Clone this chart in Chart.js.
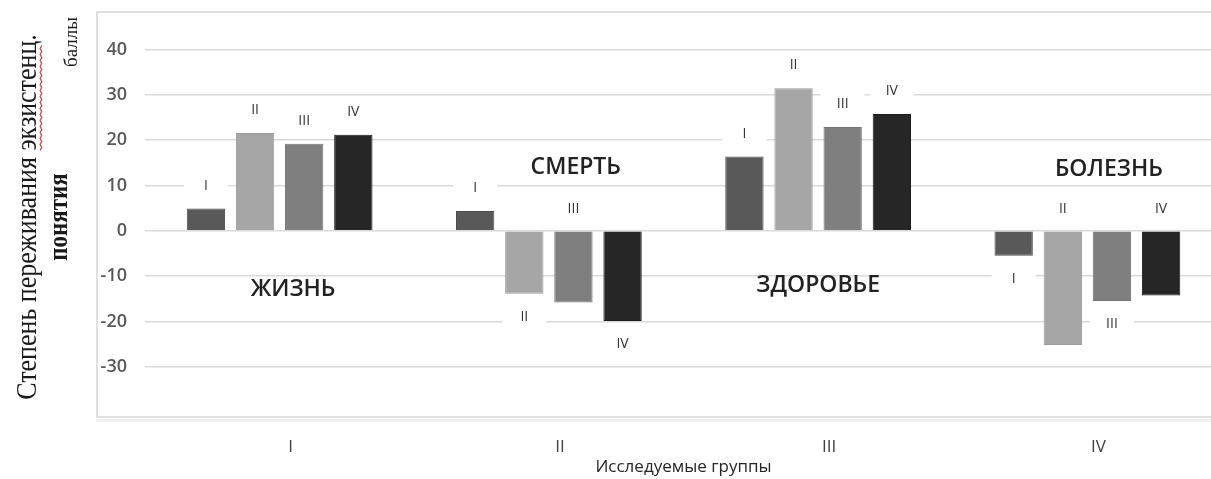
<!DOCTYPE html>
<html>
<head>
<meta charset="utf-8">
<script src="https://cdn.jsdelivr.net/npm/chart.js@4"></script>
<style>
	html, body { margin: 0; padding: 0; background: #fff; overflow: hidden; }
	#wrap { width: 1240px; height: 479px; }
</style>
</head>
<body>
<div id="wrap"><canvas id="groupChart"></canvas></div>
<script>
// Исследуемые группы (ось X)
const groups = ['I', 'II', 'III', 'IV'];
// Серии внутри каждой группы
const seriesNames = ['I', 'II', 'III', 'IV'];
const seriesI = [4.9, 4.4, 16.4, -5.5];
const seriesII = [21.6, -13.9, 31.5, -25.2];
const seriesIII = [19.2, -15.8, 22.9, -15.5];
const seriesIV = [21.2, -19.9, 25.8, -14.3];
// Подписи оси Y
const yTickValues = [-30, -20, -10, 0, 10, 20, 30, 40];
// Экзистенциальные понятия для каждой группы
const concepts = ['ЖИЗНЬ', 'СМЕРТЬ', 'ЗДОРОВЬЕ', 'БОЛЕЗНЬ'];

// где стоит подпись столбика: 'end' - у конца, 'base' - над нулём
const labelPlace = [
	['end', 'end', 'end', 'end'],
	['end', 'end', 'end', 'base'],
	['end', 'base', 'end', 'end'],
	['end', 'end', 'end', 'base']
];
// положение надписей-понятий (сдвиг по категории, значение по Y)
const conceptPos = [[0.05, -13], [0.1, 14], [0, -12], [0.08, 13.5]];

const fills = ['#595959', '#a6a6a6', '#7f7f7f', '#262626'];
const borders = ['#4d4d4d', '#9c9c9c', '#767676', '#1c1c1c'];

const decorPlugin = {
	id: 'decor',
	beforeDraw(chart) {
		const ctx = chart.ctx;
		ctx.save();
		// рамка диаграммы
		ctx.strokeStyle = '#f0f0f0';
		ctx.lineWidth = 3;
		ctx.beginPath();
		ctx.moveTo(96, 420.5);
		ctx.lineTo(1240, 420.5);
		ctx.stroke();
		ctx.strokeStyle = '#d6d6d6';
		ctx.lineWidth = 1.5;
		ctx.strokeRect(97, 12, 1134, 405);
		ctx.restore();
	},
	afterDatasetsDraw(chart) {
		const ctx = chart.ctx;
		const yScale = chart.scales.y;
		const zero = yScale.getPixelForValue(0);
		ctx.save();
		ctx.font = '14px "Open Sans"';
		ctx.textAlign = 'center';
		ctx.textBaseline = 'middle';
		chart.data.datasets.forEach((ds, di) => {
			const meta = chart.getDatasetMeta(di);
			meta.data.forEach((bar, i) => {
				const v = ds.data[i];
				let y;
				if (labelPlace[di][i] === 'base') {
					y = zero - 22;
				} else {
					y = v >= 0 ? bar.y - 23 : bar.y + 23;
				}
				ctx.fillStyle = '#ffffff';
				ctx.fillRect(bar.x - 22, y - 14, 44, 28);
				ctx.fillStyle = '#333333';
				ctx.fillText(seriesNames[di], bar.x, y);
			});
		});
		ctx.restore();
	},
	afterDraw(chart) {
		const ctx = chart.ctx;
		const xScale = chart.scales.x;
		const yScale = chart.scales.y;
		ctx.save();
		// понятия
		ctx.font = '600 23px "Open Sans"';
		ctx.fillStyle = '#222222';
		ctx.textAlign = 'center';
		ctx.textBaseline = 'middle';
		concepts.forEach((c, i) => {
			const x = xScale.getPixelForValue(i + conceptPos[i][0]);
			const y = yScale.getPixelForValue(conceptPos[i][1]);
			ctx.fillText(c, x, y);
		});

		// подпись оси Y
		ctx.fillStyle = '#1a1a1a';
		ctx.save();
		ctx.translate(28, 217);
		ctx.rotate(-Math.PI / 2);
		ctx.scale(1, 1.15);
		ctx.font = '26px "Liberation Serif"';
		const t1 = 'Степень переживания ';
		const t2 = 'экзистенц.';
		const w1 = ctx.measureText(t1).width;
		const w2 = ctx.measureText(t2).width;
		const start = -(w1 + w2) / 2;
		ctx.textAlign = 'left';
		ctx.fillText(t1, start, 0);
		ctx.fillText(t2, start + w1, 0);
		// красное подчёркивание
		ctx.strokeStyle = '#e03030';
		ctx.lineWidth = 1;
		ctx.beginPath();
		for (let k = 0; k <= w2 - 10; k += 3) {
			const yy = 10.5 + ((k / 3) % 2 === 0 ? 0 : 1.5);
			if (k === 0) ctx.moveTo(start + w1 + k, yy); else ctx.lineTo(start + w1 + k, yy);
		}
		ctx.stroke();
		ctx.textAlign = 'center';
		ctx.font = 'bold 23px "Liberation Serif"';
		ctx.fillText('понятия', 0, 28);
		ctx.restore();

		ctx.save();
		ctx.translate(72, 42);
		ctx.rotate(-Math.PI / 2);
		ctx.textAlign = 'center';
		ctx.textBaseline = 'middle';
		ctx.font = '19px "Liberation Serif"';
		ctx.fillText('баллы', 0, 0);
		ctx.restore();
		ctx.restore();
	}
};

const ctx = document.getElementById('groupChart').getContext('2d');
new Chart(ctx, {
	type: 'bar',
	data: {
		labels: groups,
		datasets: [seriesI, seriesII, seriesIII, seriesIV].map((d, i) => ({
			label: seriesNames[i],
			data: d,
			backgroundColor: fills[i],
			borderColor: borders[i],
			borderWidth: 1,
			categoryPercentage: 0.73,
			barPercentage: 0.78
		}))
	},
	options: {
		responsive: true,
		maintainAspectRatio: false,
		animation: false,
		layout: { padding: { left: 97, right: 18, top: 0, bottom: 0 } },
		plugins: {
			legend: { display: false },
			tooltip: { enabled: false }
		},
		scales: {
			x: {
				grid: { display: false },
				border: { display: false },
				ticks: {
					color: '#404040',
					font: { family: 'Open Sans', size: 17 },
					padding: 17,
					labelOffset: 11
				},
				title: {
					display: true,
					text: 'Исследуемые группы',
					color: '#262626',
					font: { family: 'Open Sans', size: 17 },
					padding: { top: 0, bottom: 2 }
				},
				afterFit(scale) { scale.height = 67; }
			},
			y: {
				min: -40,
				max: 44.6,
				grid: { color: '#d9d9d9', lineWidth: 1.5, drawTicks: false },
				border: { display: false },
				ticks: {
					color: '#595959',
					font: { family: 'Open Sans', size: 18, weight: '600' },
					padding: 18
				},
				afterBuildTicks(scale) {
					scale.ticks = yTickValues.map(v => ({ value: v }));
				},
				afterFit(scale) { scale.width = 48; }
			}
		}
	},
	plugins: [decorPlugin]
});
</script>
</body>
</html>
